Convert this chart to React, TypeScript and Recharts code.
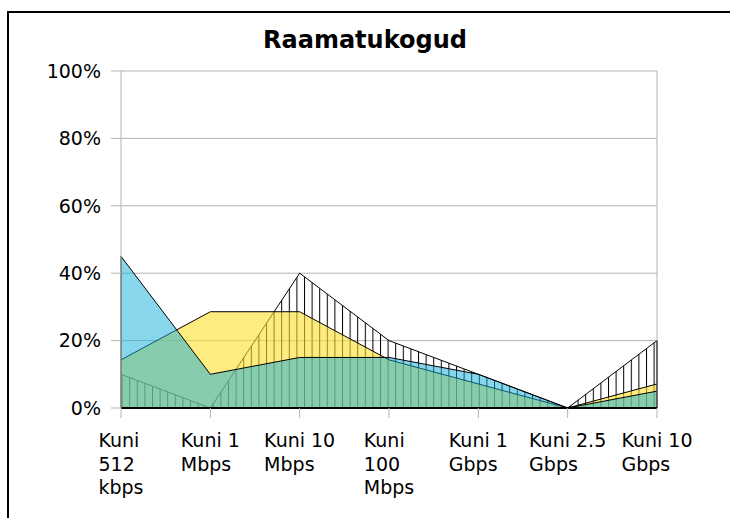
import React from 'react';
import { AreaChart, Area, XAxis, YAxis, CartesianGrid, ReferenceLine } from 'recharts';

const categories = [
  'Kuni 512 kbps',
  'Kuni 1 Mbps',
  'Kuni 10 Mbps',
  'Kuni 100 Mbps',
  'Kuni 1 Gbps',
  'Kuni 2.5 Gbps',
  'Kuni 10 Gbps',
];

// how the category labels wrap in the original
const tickLines = [
  ['Kuni', '512', 'kbps'],
  ['Kuni 1', 'Mbps'],
  ['Kuni 10', 'Mbps'],
  ['Kuni', '100', 'Mbps'],
  ['Kuni 1', 'Gbps'],
  ['Kuni 2.5', 'Gbps'],
  ['Kuni 10', 'Gbps'],
];

const hatchValues = [10, 0, 40, 20, 10, 0, 20];
const yellowValues = [14.29, 28.57, 28.57, 14.29, 7.14, 0, 7.14];
const blueValues = [45, 10, 15, 15, 10, 0, 5];

const yTicks = [0, 20, 40, 60, 80, 100];

const FONT = '"DejaVu Sans", sans-serif';
const FONT_SIZE = 19;
const GRID = '#b3b3b3';

const data = categories.map((name, i) => ({
  name,
  hatch: hatchValues[i],
  yellow: yellowValues[i],
  blue: blueValues[i],
}));

let ctx: CanvasRenderingContext2D | null = null;
const measure = (s: string) => {
  if (!ctx) ctx = document.createElement('canvas').getContext('2d');
  if (!ctx) return s.length * FONT_SIZE * 0.6;
  ctx.font = `${FONT_SIZE}px ${FONT}`;
  return ctx.measureText(s).width;
};

const XTick = (props: any) => {
  const { x, y, payload } = props;
  const lines = tickLines[payload.index] || [payload.value];
  const w = Math.max(...lines.map(measure));
  return (
    <g transform={`translate(${x - w / 2},${y})`}>
      {lines.map((l: string, i: number) => (
        <text key={i} x={0} y={17 + i * 23.5} fill="#000" fontSize={FONT_SIZE} fontFamily={FONT} textAnchor="start">
          {l}
        </text>
      ))}
    </g>
  );
};

const first = 0;
const last = categories.length - 1;
const edgeTop = (i: number) => Math.max(hatchValues[i], yellowValues[i], blueValues[i]);

export default function App() {
  return (
    <div style={{ position: 'absolute', left: 0, top: 0, width: 730, height: 518, overflow: 'hidden', background: '#fff' }}>
      <div style={{ position: 'absolute', left: 7, top: 11, width: 723, height: 2, background: '#000' }} />
      <div style={{ position: 'absolute', left: 7, top: 11, width: 2, height: 507, background: '#000' }} />
      <div
        style={{
          position: 'absolute',
          left: 0,
          width: 730,
          top: 26,
          textAlign: 'center',
          fontFamily: FONT,
          fontWeight: 'bold',
          fontSize: 24,
        }}
      >
        Raamatukogud
      </div>
      <AreaChart width={730} height={518} data={data} margin={{ top: 71, right: 73, left: 0, bottom: 0 }}>
        <defs>
          <pattern id="hatch" width="7.6" height="10" patternUnits="userSpaceOnUse">
            <line x1="0.5" y1="0" x2="0.5" y2="10" stroke="#000" strokeWidth={1} />
          </pattern>
        </defs>
        <CartesianGrid vertical={false} stroke={GRID} />
        <ReferenceLine x={categories[last]} stroke={GRID} />
        <XAxis
          dataKey="name"
          height={110}
          interval={0}
          tick={<XTick />}
          tickSize={10}
          tickMargin={12}
          tickLine={{ stroke: GRID }}
          axisLine={false}
        />
        <YAxis
          width={121}
          domain={[0, 100]}
          ticks={yTicks}
          tickFormatter={(v: number) => `${v}%`}
          tick={{ fill: '#000', fontSize: FONT_SIZE, fontFamily: FONT }}
          tickSize={10}
          tickMargin={10}
          tickLine={{ stroke: GRID }}
          axisLine={{ stroke: GRID }}
        />
        <Area
          type="linear"
          dataKey="hatch"
          stroke="#000"
          strokeWidth={1}
          fill="url(#hatch)"
          fillOpacity={1}
          dot={false}
          activeDot={false}
          isAnimationActive={false}
        />
        <Area
          type="linear"
          dataKey="yellow"
          stroke="#000"
          strokeWidth={1}
          fill="#ffdf2b"
          fillOpacity={0.6}
          dot={false}
          activeDot={false}
          isAnimationActive={false}
        />
        <Area
          type="linear"
          dataKey="blue"
          stroke="#000"
          strokeWidth={1}
          fill="#0fadd9"
          fillOpacity={0.5}
          dot={false}
          activeDot={false}
          isAnimationActive={false}
        />
        <ReferenceLine
          segment={[{ x: categories[first], y: 0 }, { x: categories[first], y: edgeTop(first) }]}
          stroke="#000"
        />
        <ReferenceLine
          segment={[{ x: categories[last], y: 0 }, { x: categories[last], y: edgeTop(last) }]}
          stroke="#000"
        />
        <ReferenceLine y={0} stroke="#000" strokeWidth={2} />
      </AreaChart>
    </div>
  );
}
